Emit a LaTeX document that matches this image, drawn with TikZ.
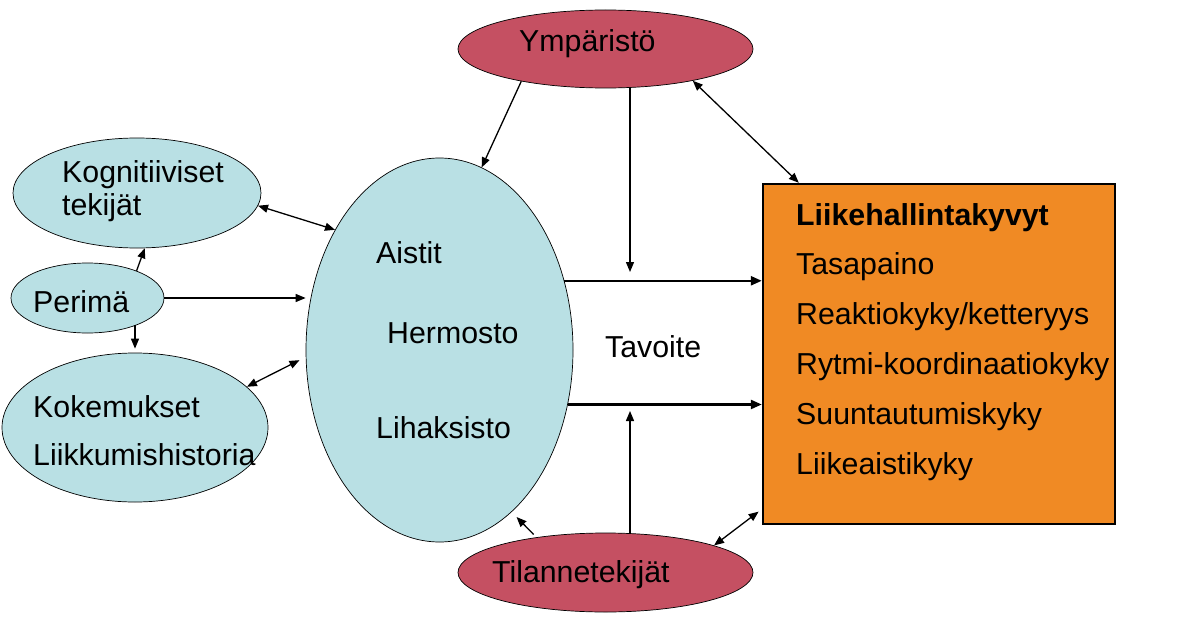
\documentclass[tikz,border=0pt]{standalone}
\usepackage{fontspec}
\setmainfont{Liberation Sans}
\usetikzlibrary{shapes.geometric}
\usetikzlibrary{arrows.meta}
\definecolor{paleblue}{RGB}{185,224,228}
\definecolor{rosered}{RGB}{197,80,98}
\definecolor{skillorange}{RGB}{240,138,36}
\tikzset{
  factor/.style={ellipse, draw, line width=0.7pt, fill=paleblue, inner sep=0pt},
  outer/.style={ellipse, draw, line width=0.7pt, fill=rosered, inner sep=0pt},
  word/.style={anchor=base west, inner sep=0pt, font=\fontsize{30.3}{36}\selectfont},
  arr/.style={-{Triangle[length=10pt,width=8pt]}, line width=1.3pt},
  twoarr/.style={{Triangle[length=10pt,width=8pt]}-{Triangle[length=10pt,width=8pt]}, line width=1.3pt},
  bigarr/.style={-{Triangle[length=11pt,width=9pt]}, line width=2.4pt}
}

\begin{document}
\begin{tikzpicture}[x=1pt,y=-1pt]
        \useasboundingbox (0,0) rectangle (1185,623);
        %%%ELLIPSES AND BOX%%%
        \node[outer, minimum width=295pt, minimum height=78pt] (ymp) at (605.5,49) {};
        \node[outer, minimum width=295pt, minimum height=79pt] (til) at (605.5,572.5) {};
        \node[factor, minimum width=267pt, minimum height=384pt] (cen) at (439.5,350) {};
        \node[factor, minimum width=248pt, minimum height=110pt] (kog) at (137,193) {};
        \node[factor, minimum width=153pt, minimum height=70pt] (per) at (87.5,298) {};
        \node[factor, minimum width=266pt, minimum height=149pt] (kok) at (135,427.5) {};
        \node[draw, line width=2.4pt, fill=skillorange, minimum width=352pt,
              minimum height=340pt] (box) at (939,354) {};
        %texts
        \node[word] (ymptext) at (519,52) {Ympäristö};
        \node[word] (tiltext) at (492,582) {Tilannetekijät};
        \node[word] (kog1) at (62,182) {Kognitiiviset};
        \node[word] (kog2) at (62,215) {tekijät};
        \node[word] (pertext) at (33,312) {Perimä};
        \node[word] (kok1) at (33,417) {Kokemukset};
        \node[word] (kok2) at (33,465) {Liikkumishistoria};
        \node[word] (aistit) at (376,263) {Aistit};
        \node[word] (hermo) at (387,343) {Hermosto};
        \node[word] (lihas) at (376,438) {Lihaksisto};
        \node[word] (goal) at (605,357) {Tavoite};
        \node[word, font=\fontsize{30.3}{36}\selectfont\bfseries] (skill0) at (796,225)
          {Liikehallintakyvyt};
        \foreach \t [count=\i] in {Tasapaino, Reaktiokyky/ketteryys,
            Rytmi-koordinaatiokyky, Suuntautumiskyky, Liikeaistikyky}
          \node[word] (skill\i) at (796,225+49.8*\i) {\t};
        %helper points
        \coordinate (goalup) at (630,272);
        \coordinate (goaldown) at (630,411);
        %arrows from the environment
        \draw[arr] (ymp.201) -- (cen.77.7);
        \draw[arr] (goalup |- ymp.south) -- (goalup);
        \draw[twoarr] (ymp.340) -- ([xshift=37pt]box.north west);
        %arrows from the situation
        \draw[arr] (goaldown |- til.north) -- (goaldown);
        \draw[arr, shorten <=4pt, shorten >=7pt] (til.153) -- (cen.294);
        \draw[twoarr, shorten >=4pt] (til.14) -- ([yshift=16pt]box.south west);
        %goal arrows
        \draw[bigarr] (cen.29) -- (cen.29 -| box.west);
        \draw[bigarr] (cen.337.6) -- (cen.337.6 -| box.west);
        %left side
        \draw[twoarr] (kog.354) -- (cen.131);
        \draw[arr] (per.east) -- (per.east -| cen.west);
        \draw[arr] (per.29) -- (kog.278);
        \draw[arr, shorten >=4pt] (kok.north |- per.331) -- (kok.north);
        \draw[twoarr, shorten >=7pt] (kok.20) -- (cen.183);
    \end{tikzpicture}
\end{document}
